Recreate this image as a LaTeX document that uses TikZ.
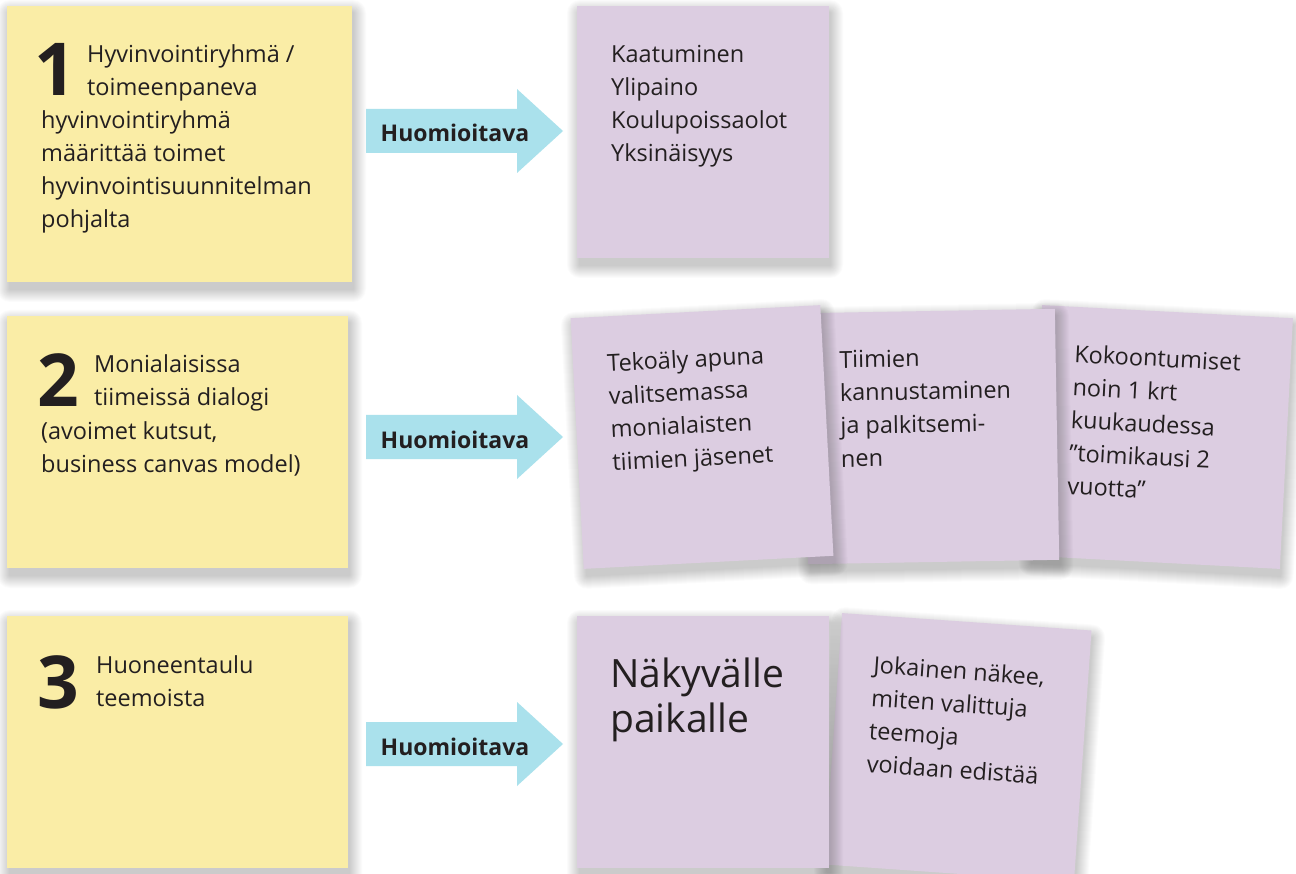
\documentclass[tikz,border=0pt]{standalone}
\usepackage{fontspec}
\setmainfont{Open Sans}
\definecolor{ynote}{HTML}{FAEDA6}
\definecolor{pnote}{HTML}{DCCDE1}
\definecolor{arrowc}{HTML}{AAE1EC}
\definecolor{ink}{HTML}{231F20}
\tikzset{
  shadowlayer/.style={fill=black, opacity=0.017},
  ybox/.style={fill=ynote, draw=none, inner sep=0pt, anchor=north west},
  pbox/.style={fill=pnote, draw=none, inner sep=0pt},
  txt/.style={inner sep=0pt, anchor=base west, align=left, text=ink, font=\fontsize{23.5pt}{33pt}\selectfont},
  bigtxt/.style={inner sep=0pt, anchor=base west, align=left, text=ink, font=\fontsize{39pt}{45pt}\selectfont},
  num/.style={inner sep=0pt, anchor=base west, text=ink, font=\fontsize{73pt}{73pt}\selectfont\bfseries},
  arrowlbl/.style={inner sep=0pt, anchor=base, text=ink, font=\fontsize{23pt}{23pt}\selectfont\bfseries},
  blockarrow/.style={fill=arrowc, draw=none}
}
% soft drop shadow under a rectangle (x1,y1)-(x2,y2), built from faint layers
\newcommand\softshadow[4]{%
  \foreach \k in {1,...,13}{%
    \fill[shadowlayer, rounded corners=\k pt] (#1-\k+3, #2-\k+7) rectangle (#3+\k+1, #4+\k+7);%
  }%
}
\begin{document}
\begin{tikzpicture}[x=1pt, y=-1pt]
\useasboundingbox (0,0) rectangle (1296,874);
\fill[white] (0,0) rectangle (1296,874);

% yellow boxes
\softshadow{7}{6}{352}{282}
\node[ybox, minimum width=345pt, minimum height=276pt] (y1) at (7,6) {};
\softshadow{7}{316}{348}{568}
\node[ybox, minimum width=341pt, minimum height=252pt] (y2) at (7,316) {};
\softshadow{7}{616}{348}{868}
\node[ybox, minimum width=341pt, minimum height=252pt] (y3) at (7,616) {};

% (base anchor = baseline of the last line)
\node[num] (n1) at (34,96) {1};
\node[txt] (t1a) at (87,96) {Hyvinvointiryhmä /\\toimeenpaneva};
\node[txt] (t1b) at (41,228) {hyvinvointiryhmä\\määrittää toimet\\hyvinvointisuunnitelman\\pohjalta};

\node[num] (n2) at (37,407) {2};
\node[txt] (t2a) at (94,406) {Monialaisissa\\tiimeissä dialogi};
\node[txt] (t2b) at (41,472) {(avoimet kutsut,\\business canvas model)};

\node[num] (n3) at (37,708) {3};
\node[txt] (t3a) at (96,706) {Huoneentaulu\\teemoista};

% arrows
\foreach \cy/\nm in {131/a1, 437/a2, 744/a3}{
  \fill[blockarrow] (366,\cy-22) -- (517,\cy-22) -- (517,\cy-42) -- (563,\cy) -- (517,\cy+42) -- (517,\cy+22) -- (366,\cy+22) -- cycle;
  \node[arrowlbl] (\nm) at (455,\cy+11) {Huomioitava};
}

% purple notes row 1
\softshadow{577}{6}{829}{258}
\node[pbox, anchor=north west, minimum width=252pt, minimum height=252pt] (p1) at (577,6) {};
\node[txt] (tp1) at (611,162) {Kaatuminen\\Ylipaino\\Koulupoissaolot\\Yksinäisyys};

% row 2 notes: C, B, A
\begin{scope}[shift={(1161,437)}, rotate=-3]
  \softshadow{-125.5}{-125.5}{125.5}{125.5}
  \node[pbox, transform shape, minimum width=251pt, minimum height=251pt] (pC) at (0,0) {};
  \node[txt, transform shape] (tC) at (-91,62) {Kokoontumiset\\noin 1 krt\\kuukaudessa\\”toimikausi 2\\vuotta”};
\end{scope}
\begin{scope}[shift={(931.5,436.5)}, rotate=1]
  \softshadow{-125.5}{-125.5}{125.5}{125.5}
  \node[pbox, transform shape, minimum width=251pt, minimum height=251pt] (pB) at (0,0) {};
  \node[txt, transform shape] (tB) at (-91,29) {Tiimien\\kannustaminen\\ja palkitsemi-\\nen};
\end{scope}
\begin{scope}[shift={(702,437)}, rotate=3]
  \softshadow{-125}{-125.5}{125}{125.5}
  \node[pbox, transform shape, minimum width=250pt, minimum height=251pt] (pA) at (0,0) {};
  \node[txt, transform shape] (tA) at (-91,29) {Tekoäly apuna\\valitsemassa\\monialaisten\\tiimien jäsenet};
\end{scope}

% row 3 notes
\begin{scope}[shift={(958,747.5)}, rotate=-4]
  \softshadow{-125}{-126}{125}{126}
  \node[pbox, transform shape, minimum width=250pt, minimum height=252pt] (pE) at (0,0) {};
  \node[txt, transform shape] (tE) at (-90,31) {Jokainen näkee,\\miten valittuja\\teemoja\\voidaan edistää};
\end{scope}
\softshadow{577}{616}{829}{868}
\node[pbox, anchor=north west, minimum width=252pt, minimum height=252pt] (pD) at (577,616) {};
\node[bigtxt] (tD) at (610,732) {Näkyvälle\\paikalle};
\end{tikzpicture}
\end{document}
